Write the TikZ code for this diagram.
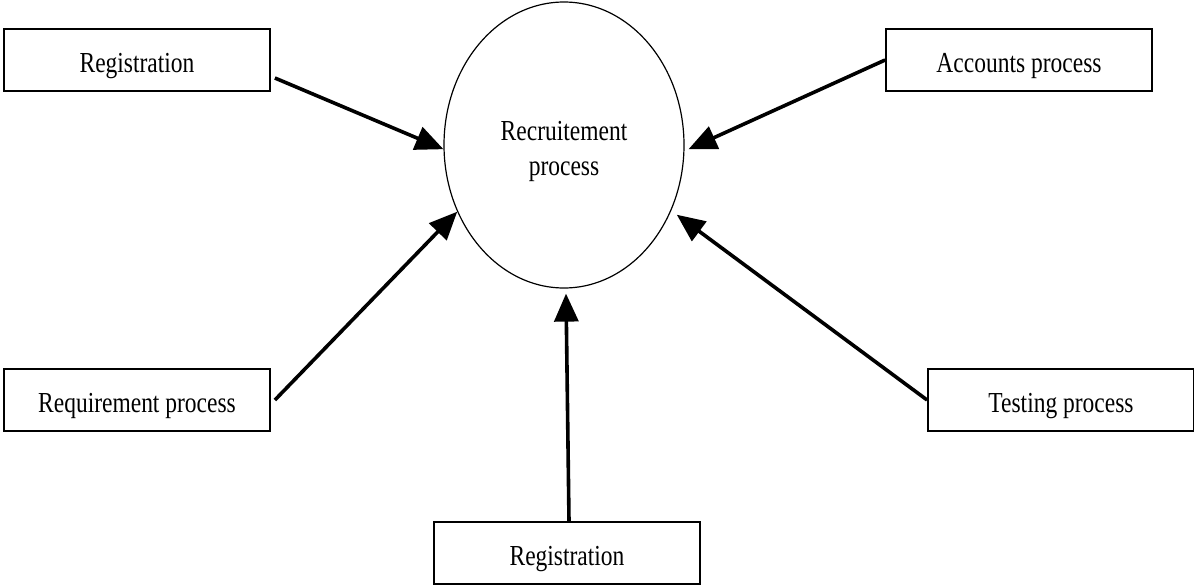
\documentclass[tikz,border=0pt]{standalone}
\usepackage{fontspec}
\setmainfont{Liberation Serif}[FakeStretch=0.81]
\usepackage{tikz}
\usetikzlibrary{shapes.geometric, arrows.meta}
\tikzstyle{process box}=[
    draw,
    line width = 0.9pt,
    rectangle,
    minimum width = 133pt,
    minimum height = 31pt,
    text height = 12pt,
    text depth = 0pt,
    font = \fontsize{14.5}{16}\selectfont
]

\begin{document}
\begin{tikzpicture}[x=0.5pt, y=-0.5pt, line width=1.8pt, flow/.style = {-{Triangle[length=14pt, width=12pt]}}]
        \useasboundingbox (0,0) rectangle (1194,584);
        \node[draw, ellipse, line width=0.6pt, minimum width=120pt, minimum height=143pt, align=center, text height=30pt, text depth=0pt, font=\fontsize{14.5}{17.5}\selectfont] (6) at (564,145) {Recruitement\\process};
        \node[process box] (1) at (137,60) {Registration};
        \node[process box] (2) at (1019,60) {Accounts process};
        \node[process box] (3) at (137,400) {Requirement process};
        \node[process box] (4) at (1061,400) {Testing process};
        \node[process box] (5) at (567,553) {Registration};

        \draw[flow] ([xshift=2pt, yshift=-9pt]1.east) -- (6.182);
        \draw[flow] (2.west) -- ([xshift=2pt]6.358);
        \draw[flow] ([xshift=2pt]3.east) -- (6.212);
        \draw[flow] (4.west) -- ([xshift=3pt, yshift=-1.5pt]6.328);
        \draw[flow] ([xshift=1pt]5.north) -- ([xshift=1pt, yshift=-2.5pt]6.270);

    \end{tikzpicture}
\end{document}
